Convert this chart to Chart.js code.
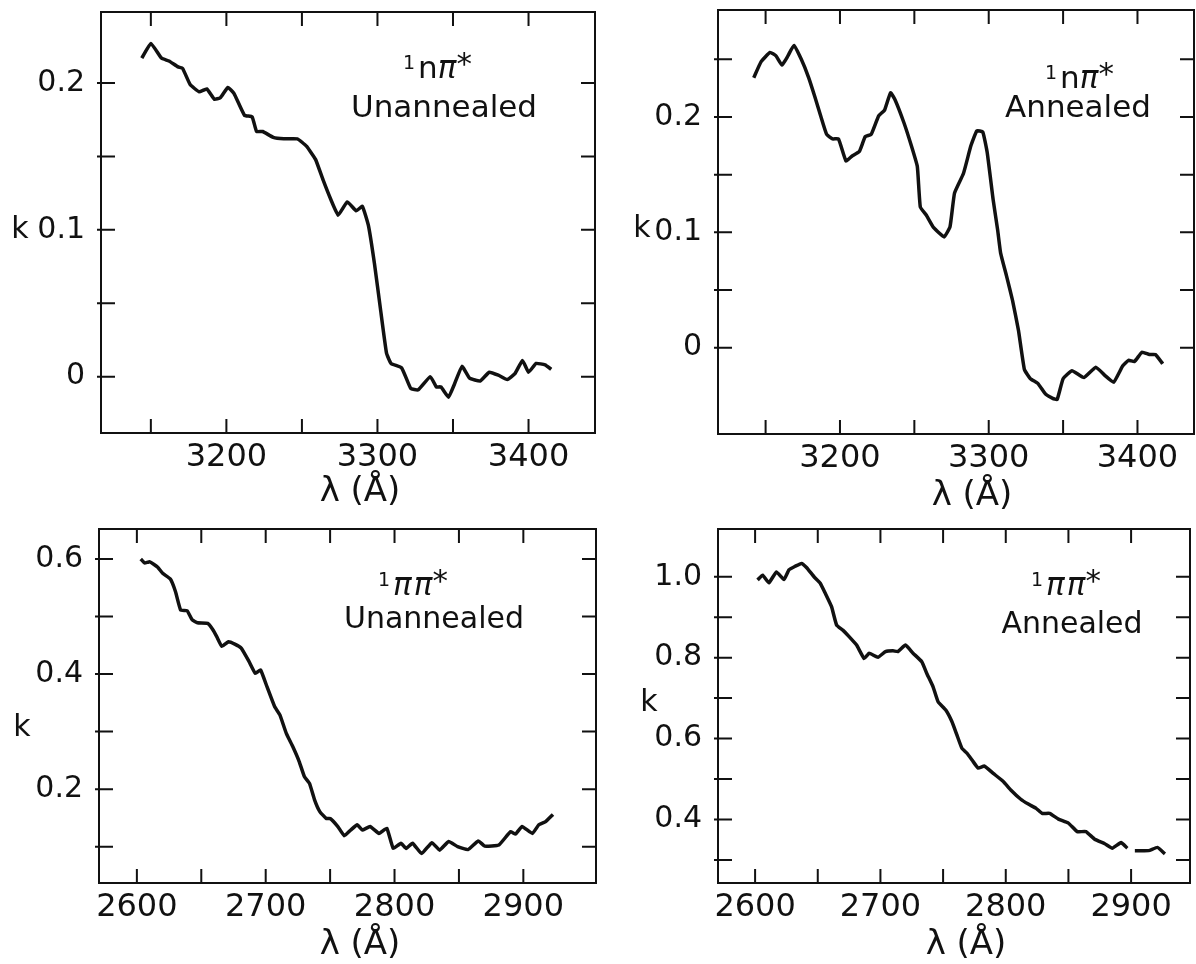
<!DOCTYPE html>
<html>
<head>
<meta charset="utf-8">
<script src="https://cdn.jsdelivr.net/npm/chart.js@4.4.1/dist/chart.umd.min.js"></script>
<style>
html,body{margin:0;padding:0;background:#fff;width:1196px;height:964px;overflow:hidden}
canvas{position:absolute}
</style>
</head>
<body>
<canvas id="c1" width="600" height="520" style="left:0;top:0"></canvas>
<canvas id="c2" width="596" height="520" style="left:600px;top:0"></canvas>
<canvas id="c3" width="600" height="444" style="left:0;top:520px"></canvas>
<canvas id="c4" width="596" height="444" style="left:600px;top:520px"></canvas>
<script>
// ---------- Data: 1 n-pi* unannealed ----------
const npiUnannealedWavelength = [3144,3150,3157,3162,3168,3171,3176,3182,3187,3192,3196,3201,3205,3212,3217,3220,3224,3231,3238,3247,3253,3259,3264,3269,3274,3280,3286,3290,3294,3298,3302,3306,3309,3316,3322,3327,3335,3339,3342,3347,3351,3356,3361,3368,3374,3380,3386,3391,3396,3400,3405,3411,3415];
const npiUnannealedK = [0.217,0.227,0.217,0.215,0.211,0.210,0.199,0.194,0.196,0.189,0.190,0.197,0.193,0.178,0.177,0.167,0.167,0.163,0.162,0.162,0.157,0.148,0.134,0.121,0.110,0.119,0.113,0.116,0.103,0.077,0.046,0.016,0.009,0.006,-0.008,-0.009,0.000,-0.007,-0.007,-0.014,-0.005,0.007,-0.001,-0.003,0.003,0.001,-0.002,0.002,0.011,0.003,0.009,0.008,0.005];

// ---------- Data: 1 n-pi* annealed ----------
const npiAnnealedWavelength = [3142,3147,3153,3157,3161,3165,3169,3174,3179,3183,3187,3191,3195,3199,3204,3208,3213,3217,3221,3226,3230,3234,3237,3243,3248,3252,3254,3258,3263,3270,3274,3277,3283,3288,3292,3296,3299,3303,3306,3308,3312,3316,3320,3324,3328,3333,3338,3343,3346,3350,3356,3364,3372,3378,3384,3390,3394,3398,3403,3408,3412,3417];
const npiAnnealedK = [0.234,0.248,0.256,0.253,0.245,0.253,0.262,0.250,0.234,0.218,0.201,0.185,0.181,0.181,0.162,0.166,0.170,0.183,0.185,0.201,0.206,0.221,0.215,0.195,0.175,0.157,0.122,0.115,0.104,0.096,0.105,0.134,0.151,0.175,0.188,0.187,0.169,0.128,0.102,0.082,0.062,0.041,0.015,-0.019,-0.027,-0.031,-0.040,-0.044,-0.045,-0.027,-0.020,-0.026,-0.017,-0.024,-0.030,-0.016,-0.011,-0.012,-0.004,-0.006,-0.006,-0.014];

// ---------- Data: 1 pi-pi* unannealed ----------
const pipiUnannealedWavelength = [2603,2606,2610,2616,2620,2626,2630,2634,2639,2643,2647,2655,2659,2662,2666,2671,2676,2681,2687,2692,2696,2701,2707,2711,2716,2721,2726,2730,2734,2738,2742,2747,2750,2756,2761,2766,2771,2775,2781,2788,2794,2799,2805,2809,2814,2821,2829,2835,2842,2849,2857,2865,2870,2881,2890,2894,2899,2907,2912,2917,2923];
const pipiUnannealedK = [0.600,0.593,0.595,0.586,0.575,0.565,0.543,0.511,0.510,0.494,0.489,0.488,0.477,0.465,0.448,0.456,0.452,0.445,0.422,0.401,0.407,0.378,0.343,0.329,0.297,0.274,0.248,0.222,0.210,0.181,0.161,0.149,0.149,0.135,0.119,0.129,0.138,0.129,0.135,0.123,0.132,0.097,0.106,0.097,0.106,0.088,0.107,0.094,0.109,0.100,0.095,0.110,0.101,0.103,0.126,0.122,0.135,0.123,0.138,0.143,0.156];

// ---------- Data: 1 pi-pi* annealed (null = break in the trace) ----------
const pipiAnnealedWavelength = [2602,2606,2611,2617,2623,2627,2632,2637,2641,2647,2652,2656,2661,2665,2670,2675,2681,2687,2691,2698,2704,2710,2714,2720,2726,2733,2737,2742,2746,2752,2757,2761,2765,2769,2774,2778,2783,2790,2798,2804,2812,2818,2824,2829,2835,2842,2850,2857,2864,2871,2879,2885,2892,2897,2900,2903,2914,2921,2927];
const pipiAnnealedK = [0.992,1.004,0.985,1.012,0.993,1.017,1.026,1.033,1.023,1.000,0.984,0.959,0.926,0.881,0.868,0.852,0.831,0.798,0.811,0.801,0.815,0.817,0.815,0.831,0.811,0.790,0.761,0.728,0.691,0.671,0.642,0.609,0.576,0.564,0.543,0.527,0.532,0.514,0.494,0.473,0.450,0.438,0.428,0.415,0.415,0.401,0.391,0.370,0.370,0.351,0.340,0.329,0.343,0.329,null,0.323,0.323,0.331,0.315];

// ---------- Ticks ----------
const npiXTicks = [3150,3200,3250,3300,3350,3400];
const npiXLabelValues = [3200,3300,3400];
const npiXLabels = ['3200','3300','3400'];
const npiUnannealedYTicks = [0,0.05,0.1,0.15,0.2];
const npiAnnealedYTicks = [0,0.05,0.1,0.15,0.2,0.25];
const npiYLabelValues = [0,0.1,0.2];
const npiYLabels = ['0','0.1','0.2'];

const pipiXTicks = [2600,2650,2700,2750,2800,2850,2900];
const pipiXLabelValues = [2600,2700,2800,2900];
const pipiXLabels = ['2600','2700','2800','2900'];
const pipiUnannealedYTicks = [0.1,0.2,0.3,0.4,0.5,0.6];
const pipiUnannealedYLabelValues = [0.2,0.4,0.6];
const pipiUnannealedYLabels = ['0.2','0.4','0.6'];
const pipiAnnealedYTicks = [0.3,0.4,0.5,0.6,0.7,0.8,0.9,1.0];
const pipiAnnealedYLabelValues = [0.4,0.6,0.8,1.0];
const pipiAnnealedYLabels = ['0.4','0.6','0.8','1.0'];

// ---------- Text ----------
const xAxisTitle = 'λ (Å)';
const yAxisTitle = 'k';

const FONT = '"DejaVu Sans", "Liberation Sans", sans-serif';
const INK = '#111';

function pts(xs, ys) { return xs.map((x, i) => ({x: x, y: ys[i]})); }

function labelFor(values, labels) {
  return function(v) {
    for (let i = 0; i < values.length; i++) {
      if (Math.abs(values[i] - v) < 1e-9) return labels[i];
    }
    return '';
  };
}

const decorPlugin = {
  id: 'decor',
  afterDatasetsDraw(chart, args, opts) {
    const ctx = chart.ctx;
    const a = chart.chartArea;
    const L = 14;
    ctx.save();
    ctx.strokeStyle = INK;
    ctx.lineWidth = 2;
    ctx.strokeRect(a.left, a.top, a.right - a.left, a.bottom - a.top);
    const xs = chart.scales.x, ys = chart.scales.y;
    ctx.beginPath();
    xs.ticks.forEach(t => {
      const p = xs.getPixelForValue(t.value);
      ctx.moveTo(p, a.bottom); ctx.lineTo(p, a.bottom - L);
      ctx.moveTo(p, a.top); ctx.lineTo(p, a.top + L);
    });
    ys.ticks.forEach(t => {
      const p = ys.getPixelForValue(t.value);
      ctx.moveTo(a.left - 4, p); ctx.lineTo(a.left + L, p);
      ctx.moveTo(a.right, p); ctx.lineTo(a.right - L, p);
    });
    ctx.stroke();
    ctx.restore();
  },
  afterDraw(chart, args, opts) {
    const ctx = chart.ctx;
    ctx.save();
    ctx.fillStyle = INK;
    (opts.texts || []).forEach(item => {
      if (item.parts) {
        let x = item.x;
        item.parts.forEach(p => {
          ctx.font = (p.italic ? 'italic ' : '') + p.size + 'px ' + FONT;
          ctx.textAlign = 'left';
          ctx.textBaseline = 'alphabetic';
          ctx.fillText(p.t, x, item.y + (p.dy || 0));
          x += ctx.measureText(p.t).width + (p.gap || 0);
        });
      } else {
        ctx.font = item.size + 'px ' + FONT;
        ctx.textAlign = 'center';
        ctx.textBaseline = item.baseline || 'alphabetic';
        ctx.fillText(item.t, item.x, item.y);
      }
    });
    ctx.restore();
  }
};

function makeChart(id, cfg) {
  return new Chart(document.getElementById(id), {
    type: 'line',
    data: {
      datasets: [{
        data: pts(cfg.xs, cfg.ys),
        borderColor: INK,
        borderWidth: 3.5,
        pointRadius: 0,
        tension: 0.12,
        spanGaps: false,
        fill: false
      }]
    },
    options: {
      responsive: false,
      animation: false,
      events: [],
      layout: {padding: cfg.padding},
      plugins: {
        legend: {display: false},
        tooltip: {enabled: false},
        decor: {texts: cfg.texts}
      },
      scales: {
        x: {
          type: 'linear',
          min: cfg.xMin, max: cfg.xMax,
          grid: {display: false},
          border: {display: false},
          afterBuildTicks: s => { s.ticks = cfg.xTicks.map(v => ({value: v})); },
          afterFit: s => { s.height = cfg.xAxisHeight; s.paddingLeft = 0; s.paddingRight = 0; },
          ticks: {
            autoSkip: false, maxRotation: 0, minRotation: 0,
            padding: cfg.xPad, color: INK, font: {family: FONT, size: 32},
            callback: labelFor(cfg.xLabelValues, cfg.xLabels)
          }
        },
        y: {
          type: 'linear',
          min: cfg.yMin, max: cfg.yMax,
          grid: {display: false},
          border: {display: false},
          afterBuildTicks: s => { s.ticks = cfg.yTicks.map(v => ({value: v})); },
          afterFit: s => { s.width = cfg.yAxisWidth; s.paddingTop = 0; s.paddingBottom = 0; },
          ticks: {
            autoSkip: false,
            padding: 8, color: INK, font: {family: FONT, size: 30},
            callback: labelFor(cfg.yLabelValues, cfg.yLabels)
          }
        }
      }
    },
    plugins: [decorPlugin]
  });
}

function npiLabel(x, y) {
  return {x: x, y: y, parts: [
    {t: '1', size: 19, dy: -9, gap: 3},
    {t: 'n', size: 31},
    {t: 'π', size: 31, italic: true},
    {t: '*', size: 31, dy: -4}
  ]};
}
function pipiLabel(x, y) {
  return {x: x, y: y, parts: [
    {t: '1', size: 19, dy: -9, gap: 3},
    {t: 'π', size: 31, italic: true, gap: 2},
    {t: 'π', size: 31, italic: true},
    {t: '*', size: 31, dy: -4}
  ]};
}

makeChart('c1', {
  xs: npiUnannealedWavelength, ys: npiUnannealedK,
  xMin: 3117, xMax: 3444, yMin: -0.0384, yMax: 0.2484,
  xTicks: npiXTicks, xLabelValues: npiXLabelValues, xLabels: npiXLabels,
  yTicks: npiUnannealedYTicks, yLabelValues: npiYLabelValues, yLabels: npiYLabels,
  padding: {top: 12, right: 5, left: 0, bottom: 0},
  yAxisWidth: 101, xAxisHeight: 87, xPad: -3,
  texts: [
    {t: yAxisTitle, x: 20, y: 230, size: 30, baseline: 'middle'},
    {t: xAxisTitle, x: 360, y: 501, size: 34},
    npiLabel(403, 78),
    {t: 'Unannealed', x: 444, y: 117, size: 31}
  ]
});

makeChart('c2', {
  xs: npiAnnealedWavelength, ys: npiAnnealedK,
  xMin: 3118, xMax: 3438, yMin: -0.0749, yMax: 0.2928,
  xTicks: npiXTicks, xLabelValues: npiXLabelValues, xLabels: npiXLabels,
  yTicks: npiAnnealedYTicks, yLabelValues: npiYLabelValues, yLabels: npiYLabels,
  padding: {top: 10, right: 2, left: 0, bottom: 0},
  yAxisWidth: 118, xAxisHeight: 86, xPad: -3,
  texts: [
    {t: yAxisTitle, x: 42, y: 229, size: 30, baseline: 'middle'},
    {t: xAxisTitle, x: 372, y: 505, size: 34},
    npiLabel(445, 88),
    {t: 'Annealed', x: 478, y: 117, size: 31}
  ]
});

makeChart('c3', {
  xs: pipiUnannealedWavelength, ys: pipiUnannealedK,
  xMin: 2570.6, xMax: 2956.4, yMin: 0.0369, yMax: 0.652,
  xTicks: pipiXTicks, xLabelValues: pipiXLabelValues, xLabels: pipiXLabels,
  yTicks: pipiUnannealedYTicks, yLabelValues: pipiUnannealedYLabelValues, yLabels: pipiUnannealedYLabels,
  padding: {top: 9, right: 4, left: 0, bottom: 0},
  yAxisWidth: 99, xAxisHeight: 81, xPad: -3,
  texts: [
    {t: yAxisTitle, x: 22, y: 208, size: 30, baseline: 'middle'},
    {t: xAxisTitle, x: 360, y: 434, size: 34},
    pipiLabel(378, 75),
    {t: 'Unannealed', x: 434, y: 108, size: 30}
  ]
});

makeChart('c4', {
  xs: pipiAnnealedWavelength, ys: pipiAnnealedK,
  xMin: 2570.4, xMax: 2947, yMin: 0.243, yMax: 1.118,
  xTicks: pipiXTicks, xLabelValues: pipiXLabelValues, xLabels: pipiXLabels,
  yTicks: pipiAnnealedYTicks, yLabelValues: pipiAnnealedYLabelValues, yLabels: pipiAnnealedYLabels,
  padding: {top: 9, right: 6, left: 0, bottom: 0},
  yAxisWidth: 118, xAxisHeight: 81, xPad: -3,
  texts: [
    {t: yAxisTitle, x: 49, y: 183, size: 30, baseline: 'middle'},
    {t: xAxisTitle, x: 366, y: 434, size: 34},
    pipiLabel(431, 75),
    {t: 'Annealed', x: 472, y: 113, size: 30}
  ]
});
</script>
</body>
</html>
